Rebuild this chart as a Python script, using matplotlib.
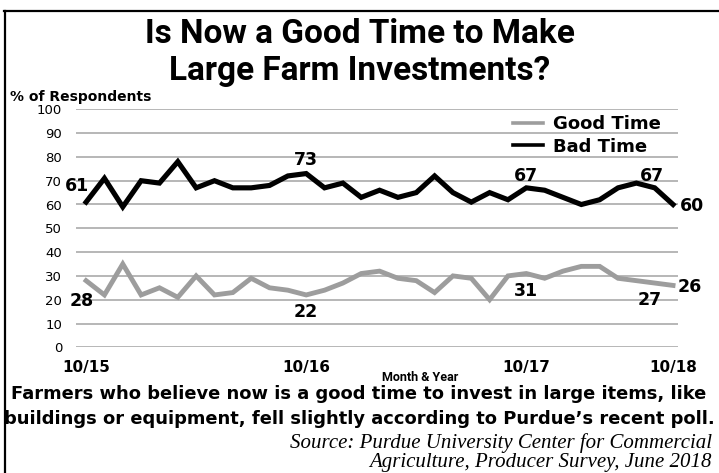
import matplotlib
matplotlib.use("Agg")
import matplotlib.pyplot as plt
from matplotlib.lines import Line2D

# survey points, 10/15 .. 10/18 (categorical, evenly spaced)
bad_time = [61, 71, 59, 70, 69, 78, 67, 70, 67, 67, 68, 72, 73, 67, 69, 63, 66,
            63, 65, 72, 65, 61, 65, 62, 67, 66, 63, 60, 62, 67, 69, 67, 60]
good_time = [28, 22, 35, 22, 25, 21, 30, 22, 23, 29, 25, 24, 22, 24, 27, 31, 32,
             29, 28, 23, 30, 29, 20, 30, 31, 29, 32, 34, 34, 29, 28, 27, 26]
tick_pos = [0, 12, 24, 32]
tick_labels = ["10/15", "10/16", "10/17", "10/18"]
y_ticks = list(range(0, 101, 10))

W, H = 719, 473
fig = plt.figure(figsize=(W / 100, H / 100), dpi=100)
ax = fig.add_axes([76 / W, 1 - 347.3 / H, 602 / W, 238 / H])

x = list(range(len(bad_time)))
ax.plot(x, good_time, color="#9d9d9d", lw=3.5, solid_joinstyle="miter", label="Good Time", zorder=3)
ax.plot(x, bad_time, color="black", lw=3.7, solid_joinstyle="miter", label="Bad Time", zorder=4)

ax.set_ylim(0, 100)
ax.set_xlim(-0.55, 32.27)
ax.set_yticks(y_ticks)
ax.set_yticklabels([str(v) for v in y_ticks], fontsize=9.5, family="DejaVu Sans")
ax.set_xticks(tick_pos)
ax.set_xticklabels(tick_labels, fontsize=11, fontweight="bold", family="DejaVu Sans")
ax.tick_params(axis="y", length=0, pad=10)
ax.tick_params(axis="x", length=0, pad=9)
ax.grid(axis="y", color="#a3a3a3", lw=1.1)
ax.set_axisbelow(True)
for s in ax.spines.values():
    s.set_visible(False)

lab_kw = dict(textcoords="offset points", fontsize=12.5, fontweight="bold",
              family="DejaVu Sans", va="center", zorder=5)
# bad time labels
ax.annotate(str(bad_time[0]), (0, bad_time[0]), xytext=(-6.5, 11.5), ha="center", **lab_kw)
ax.annotate(str(bad_time[12]), (12, bad_time[12]), xytext=(0, 10), ha="center", **lab_kw)
ax.annotate(str(bad_time[24]), (24, bad_time[24]), xytext=(0, 8.5), ha="center", **lab_kw)
ax.annotate(str(bad_time[31]), (31, bad_time[31]), xytext=(-2, 8.5), ha="center", **lab_kw)
ax.annotate(str(bad_time[32]), (32, bad_time[32]), xytext=(5, -1), ha="left", **lab_kw)
# good time labels
ax.annotate(str(good_time[0]), (0, good_time[0]), xytext=(-3, -15), ha="center", **lab_kw)
ax.annotate(str(good_time[12]), (12, good_time[12]), xytext=(0, -12), ha="center", **lab_kw)
ax.annotate(str(good_time[24]), (24, good_time[24]), xytext=(0, -12.5), ha="center", **lab_kw)
ax.annotate(str(good_time[31]), (31, good_time[31]), xytext=(-3.5, -12.5), ha="center", **lab_kw)
ax.annotate(str(good_time[32]), (32, good_time[32]), xytext=(3, -1), ha="left", **lab_kw)

leg = ax.legend(loc="upper left", bbox_to_anchor=(513 / W, 1 - 115 / H),
                bbox_transform=fig.transFigure, frameon=False, borderpad=0,
                borderaxespad=0, handlelength=1.65, handletextpad=0.55,
                labelspacing=0.25, prop={"family": "DejaVu Sans", "weight": "bold", "size": 13})
for h in leg.get_lines():
    h.set_linewidth(2.6)

# titles and notes
fig.text(0.5, 1 - 34 / H, "Is Now a Good Time to Make", ha="center", va="center",
         fontsize=24, fontweight="bold", family="Roboto")
fig.text(0.5, 1 - 71 / H, "Large Farm Investments?", ha="center", va="center",
         fontsize=24, fontweight="bold", family="Roboto")
fig.text(10 / W, 1 - 97 / H, "% of Respondents", ha="left", va="center",
         fontsize=10, fontweight="bold", family="DejaVu Sans")
fig.text(420 / W, 1 - 377 / H, "Month & Year", ha="center", va="center",
         fontsize=9, fontweight="bold", family="Roboto")
fig.text(359 / W, 1 - 399 / H, "Farmers who believe now is a good time to invest in large items, like",
         ha="center", va="baseline", fontsize=12.85, fontweight="bold", family="DejaVu Sans")
fig.text(359 / W, 1 - 424 / H, "buildings or equipment, fell slightly according to Purdue\u2019s recent poll.",
         ha="center", va="baseline", fontsize=12.85, fontweight="bold", family="DejaVu Sans")
fig.text(712 / W, 1 - 448 / H, "Source: Purdue University Center for Commercial",
         ha="right", va="baseline", fontsize=15, style="italic", family="Liberation Serif")
fig.text(712 / W, 1 - 467 / H, "Agriculture, Producer Survey, June 2018",
         ha="right", va="baseline", fontsize=15, style="italic", family="Liberation Serif")

# frame: top and left edges only
fig.add_artist(Line2D([4 / W, 1], [1 - 11 / H, 1 - 11 / H], color="black", lw=1.6,
                      transform=fig.transFigure))
fig.add_artist(Line2D([5 / W, 5 / W], [0, 1 - 11 / H], color="black", lw=1.6,
                      transform=fig.transFigure))

fig.savefig("out.png", dpi=100)
